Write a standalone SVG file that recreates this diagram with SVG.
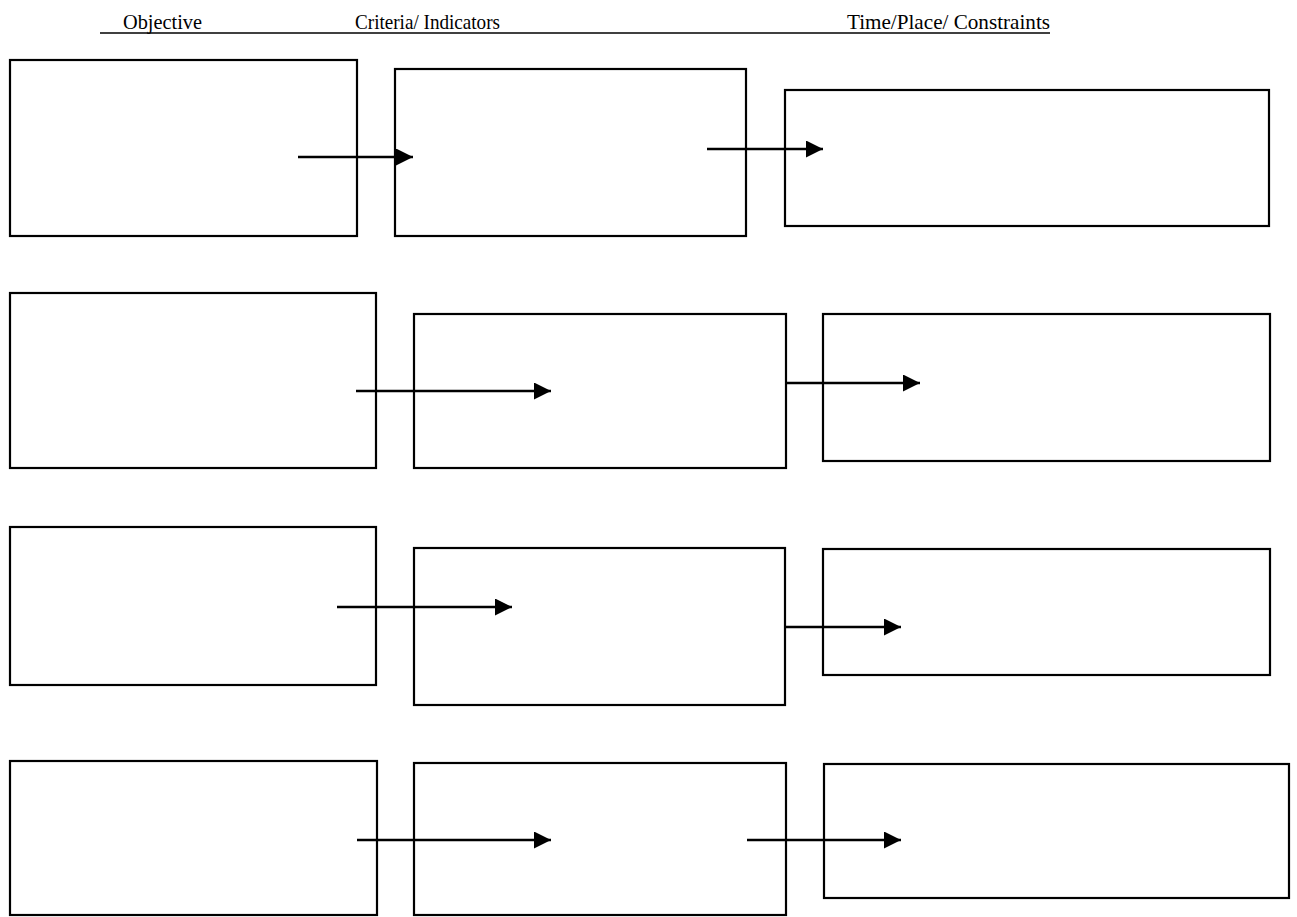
<svg xmlns="http://www.w3.org/2000/svg" width="1297" height="917" viewBox="0 0 1297 917">
<style>
.box{fill:#fff;stroke:#000;stroke-width:2.2}
.hdr{font-family:"Liberation Serif","Times New Roman",serif;font-size:21px;fill:#000}
.conn{stroke:#000;stroke-width:2.4;fill:none;marker-end:url(#ah)}
</style>
<defs>
<marker id="ah" markerUnits="userSpaceOnUse" markerWidth="18" markerHeight="18" refX="17" refY="8.5" orient="auto">
<path d="M0,0 L17,8.5 L0,17 z" fill="#000"/>
</marker>
</defs>
<rect width="1297" height="917" fill="#fff"/>
<g id="header">
<text class="hdr" x="123" y="29" textLength="79" lengthAdjust="spacingAndGlyphs">Objective</text>
<text class="hdr" x="355" y="29" textLength="145" lengthAdjust="spacingAndGlyphs">Criteria/ Indicators</text>
<text class="hdr" x="847" y="29" textLength="203" lengthAdjust="spacingAndGlyphs">Time/Place/ Constraints</text>
<line x1="100" y1="33" x2="1050" y2="33" stroke="#000" stroke-width="1.5"/>
</g>
<g id="r1a"><rect class="box" x="10" y="60" width="347" height="176"/></g>
<g id="r1b"><rect class="box" x="395" y="69" width="351" height="167"/></g>
<g id="r1c"><rect class="box" x="785" y="90" width="484" height="136"/></g>
<g id="r2a"><rect class="box" x="10" y="293" width="366" height="175"/></g>
<g id="r2b"><rect class="box" x="414" y="314" width="372" height="154"/></g>
<g id="r2c"><rect class="box" x="823" y="314" width="447" height="147"/></g>
<g id="r3a"><rect class="box" x="10" y="527" width="366" height="158"/></g>
<g id="r3b"><rect class="box" x="414" y="548" width="371" height="157"/></g>
<g id="r3c"><rect class="box" x="823" y="549" width="447" height="126"/></g>
<g id="r4a"><rect class="box" x="10" y="761" width="367" height="154"/></g>
<g id="r4b"><rect class="box" x="414" y="763" width="372" height="152"/></g>
<g id="r4c"><rect class="box" x="824" y="764" width="465" height="134"/></g>
<g id="connectors">
<line class="conn" x1="298" y1="157" x2="413" y2="157"/>
<line class="conn" x1="707" y1="149" x2="823" y2="149"/>
<line class="conn" x1="356" y1="391" x2="551" y2="391"/>
<line class="conn" x1="786" y1="383" x2="920" y2="383"/>
<line class="conn" x1="337" y1="607" x2="512" y2="607"/>
<line class="conn" x1="786" y1="627" x2="901" y2="627"/>
<line class="conn" x1="357" y1="840" x2="551" y2="840"/>
<line class="conn" x1="747" y1="840" x2="901" y2="840"/>
</g>
</svg>
